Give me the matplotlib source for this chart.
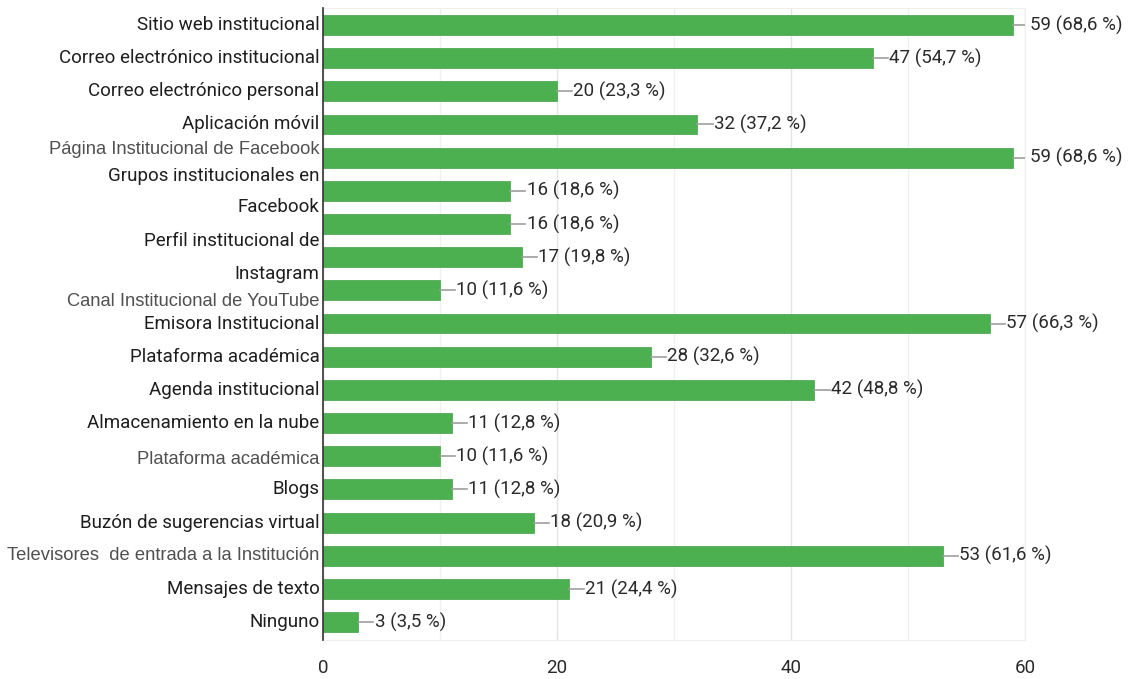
import numpy as np
import matplotlib
matplotlib.use("Agg")
import matplotlib.pyplot as plt
from matplotlib.ticker import MultipleLocator

# respuestas por canal (orden de arriba hacia abajo)
counts = [59, 47, 20, 32, 59, 16, 16, 17, 10, 57, 28, 42, 11, 10, 11, 18, 53, 21, 3]
percents = ["68,6", "54,7", "23,3", "37,2", "68,6", "18,6", "18,6", "19,8", "11,6",
            "66,3", "32,6", "48,8", "12,8", "11,6", "12,8", "20,9", "61,6", "24,4", "3,5"]

# etiquetas del eje tal como aparecen (algunas desplazadas respecto a su barra)
labels = ["Sitio web institucional", "Correo electrónico institucional",
          "Correo electrónico personal", "Aplicación móvil",
          "Página Institucional de Facebook", "Grupos institucionales en", "Facebook",
          "Perfil institucional de", "Instagram", "Canal Institucional de YouTube",
          "Emisora Institucional", "Plataforma académica", "Agenda institucional",
          "Almacenamiento en la nube", "Plataforma académica", "Blogs",
          "Buzón de sugerencias virtual", "Televisores  de entrada a la Institución",
          "Mensajes de texto", "Ninguno"]
label_pos = [0, 1, 2, 3, 3.75, 4.55, 5.5, 6.5, 7.5, 8.35, 9, 10, 11, 12, 13.1, 14, 15, 16, 17, 18]
label_gray = [False, False, False, False, True, False, False, False, False, True,
              False, False, False, False, True, False, False, True, False, False]

narrow = ["Roboto", "DejaVu Sans"]
plain = ["Liberation Sans", "DejaVu Sans"]

fig = plt.figure(figsize=(11.35, 6.79), dpi=100)
ax = fig.add_axes([0.2846, 0.0574, 0.6185, 0.9308])

y = np.arange(len(counts))
ax.barh(y, counts, height=0.6, color="#4caf50", edgecolor="#43a047", linewidth=0.5, zorder=3)

for yi, c, p in zip(y, counts, percents):
    ax.plot([c, c + 1.3], [yi, yi], color="#9e9e9e", lw=1.2, zorder=3)
    ax.text(c + 1.4, yi, f"{c} ({p} %)", va="center", ha="left",
            fontsize=13.5, color="#2a2a2a", family=narrow)

for lab, pos, gray in zip(labels, label_pos, label_gray):
    if gray:
        ax.text(-0.3, pos, lab, ha="right", va="center", fontsize=13.2,
                color="#505050", family=plain, clip_on=False)
    else:
        ax.text(-0.3, pos, lab, ha="right", va="center", fontsize=13.5,
                color="#1e1e1e", family=narrow, clip_on=False)

ax.set_xlim(0, 60)
ax.set_ylim(18.54, -0.51)
ax.set_yticks([])
ax.xaxis.set_major_locator(MultipleLocator(20))
ax.xaxis.set_minor_locator(MultipleLocator(10))
ax.grid(axis="x", which="major", color="#e4e4e4", lw=1, zorder=0)
ax.grid(axis="x", which="minor", color="#f0f0f0", lw=1, zorder=0)
ax.tick_params(axis="x", which="both", length=0, pad=14, labelsize=13.5, labelcolor="#2a2a2a")
for t in ax.get_xticklabels():
    t.set_family(narrow)

for s in ["top", "right", "bottom"]:
    ax.spines[s].set_color("#eeeeee")
ax.spines["left"].set_color("#333333")
ax.spines["left"].set_linewidth(1.2)
ax.spines["left"].set_zorder(4)

fig.savefig("out.png", dpi=100, facecolor="white")
